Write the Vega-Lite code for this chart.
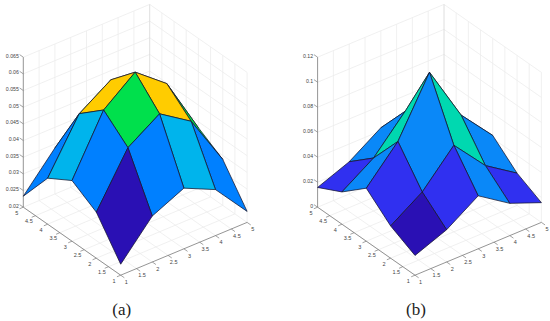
{"$schema":"https://vega.github.io/schema/vega-lite/v6.json","width":550,"height":321,"padding":0,"autosize":{"type":"fit","contains":"padding"},"background":"white","config":{"view":{"stroke":null}},
"encoding":{"x":{"field":"sx","type":"quantitative","scale":{"domain":[0,550],"nice":false},"axis":null},"y":{"field":"sy","type":"quantitative","scale":{"domain":[0,321],"reverse":true,"nice":false,"zero":false},"axis":null}},
"layer":[
{"data":{"values":[
{"p":"a","k":"g","u":1,"v":1,"z":0.02,"u2":1,"v2":5,"z2":0.02},{"p":"a","k":"g","u":1.5,"v":1,"z":0.02,"u2":1.5,"v2":5,"z2":0.02},{"p":"a","k":"g","u":2,"v":1,"z":0.02,"u2":2,"v2":5,"z2":0.02},{"p":"a","k":"g","u":2.5,"v":1,"z":0.02,"u2":2.5,"v2":5,"z2":0.02},{"p":"a","k":"g","u":3,"v":1,"z":0.02,"u2":3,"v2":5,"z2":0.02},{"p":"a","k":"g","u":3.5,"v":1,"z":0.02,"u2":3.5,"v2":5,"z2":0.02},{"p":"a","k":"g","u":4,"v":1,"z":0.02,"u2":4,"v2":5,"z2":0.02},{"p":"a","k":"g","u":4.5,"v":1,"z":0.02,"u2":4.5,"v2":5,"z2":0.02},{"p":"a","k":"g","u":5,"v":1,"z":0.02,"u2":5,"v2":5,"z2":0.02},
{"p":"a","k":"g","u":1,"v":1.5,"z":0.02,"u2":5,"v2":1.5,"z2":0.02},{"p":"a","k":"g","u":1,"v":2,"z":0.02,"u2":5,"v2":2,"z2":0.02},{"p":"a","k":"g","u":1,"v":2.5,"z":0.02,"u2":5,"v2":2.5,"z2":0.02},{"p":"a","k":"g","u":1,"v":3,"z":0.02,"u2":5,"v2":3,"z2":0.02},{"p":"a","k":"g","u":1,"v":3.5,"z":0.02,"u2":5,"v2":3.5,"z2":0.02},{"p":"a","k":"g","u":1,"v":4,"z":0.02,"u2":5,"v2":4,"z2":0.02},{"p":"a","k":"g","u":1,"v":4.5,"z":0.02,"u2":5,"v2":4.5,"z2":0.02},{"p":"a","k":"g","u":1,"v":5,"z":0.02,"u2":5,"v2":5,"z2":0.02},
{"p":"a","k":"g","u":1.5,"v":5,"z":0.02,"u2":1.5,"v2":5,"z2":0.065},{"p":"a","k":"g","u":2,"v":5,"z":0.02,"u2":2,"v2":5,"z2":0.065},{"p":"a","k":"g","u":2.5,"v":5,"z":0.02,"u2":2.5,"v2":5,"z2":0.065},{"p":"a","k":"g","u":3,"v":5,"z":0.02,"u2":3,"v2":5,"z2":0.065},{"p":"a","k":"g","u":3.5,"v":5,"z":0.02,"u2":3.5,"v2":5,"z2":0.065},{"p":"a","k":"g","u":4,"v":5,"z":0.02,"u2":4,"v2":5,"z2":0.065},{"p":"a","k":"g","u":4.5,"v":5,"z":0.02,"u2":4.5,"v2":5,"z2":0.065},
{"p":"a","k":"g","u":5,"v":1,"z":0.02,"u2":5,"v2":1,"z2":0.065},{"p":"a","k":"g","u":5,"v":1.5,"z":0.02,"u2":5,"v2":1.5,"z2":0.065},{"p":"a","k":"g","u":5,"v":2,"z":0.02,"u2":5,"v2":2,"z2":0.065},{"p":"a","k":"g","u":5,"v":2.5,"z":0.02,"u2":5,"v2":2.5,"z2":0.065},{"p":"a","k":"g","u":5,"v":3,"z":0.02,"u2":5,"v2":3,"z2":0.065},{"p":"a","k":"g","u":5,"v":3.5,"z":0.02,"u2":5,"v2":3.5,"z2":0.065},{"p":"a","k":"g","u":5,"v":4,"z":0.02,"u2":5,"v2":4,"z2":0.065},{"p":"a","k":"g","u":5,"v":4.5,"z":0.02,"u2":5,"v2":4.5,"z2":0.065},
{"p":"a","k":"g","u":1,"v":5,"z":0.025,"u2":5,"v2":5,"z2":0.025},{"p":"a","k":"g","u":1,"v":5,"z":0.03,"u2":5,"v2":5,"z2":0.03},{"p":"a","k":"g","u":1,"v":5,"z":0.035,"u2":5,"v2":5,"z2":0.035},{"p":"a","k":"g","u":1,"v":5,"z":0.04,"u2":5,"v2":5,"z2":0.04},{"p":"a","k":"g","u":1,"v":5,"z":0.045,"u2":5,"v2":5,"z2":0.045},{"p":"a","k":"g","u":1,"v":5,"z":0.05,"u2":5,"v2":5,"z2":0.05},{"p":"a","k":"g","u":1,"v":5,"z":0.055,"u2":5,"v2":5,"z2":0.055},{"p":"a","k":"g","u":1,"v":5,"z":0.06,"u2":5,"v2":5,"z2":0.06},{"p":"a","k":"g","u":1,"v":5,"z":0.065,"u2":5,"v2":5,"z2":0.065},
{"p":"a","k":"g","u":5,"v":1,"z":0.025,"u2":5,"v2":5,"z2":0.025},{"p":"a","k":"g","u":5,"v":1,"z":0.03,"u2":5,"v2":5,"z2":0.03},{"p":"a","k":"g","u":5,"v":1,"z":0.035,"u2":5,"v2":5,"z2":0.035},{"p":"a","k":"g","u":5,"v":1,"z":0.04,"u2":5,"v2":5,"z2":0.04},{"p":"a","k":"g","u":5,"v":1,"z":0.045,"u2":5,"v2":5,"z2":0.045},{"p":"a","k":"g","u":5,"v":1,"z":0.05,"u2":5,"v2":5,"z2":0.05},{"p":"a","k":"g","u":5,"v":1,"z":0.055,"u2":5,"v2":5,"z2":0.055},{"p":"a","k":"g","u":5,"v":1,"z":0.06,"u2":5,"v2":5,"z2":0.06},{"p":"a","k":"g","u":5,"v":1,"z":0.065,"u2":5,"v2":5,"z2":0.065},
{"p":"b","k":"g","u":1,"v":1,"z":0,"u2":1,"v2":5,"z2":0},{"p":"b","k":"g","u":1.5,"v":1,"z":0,"u2":1.5,"v2":5,"z2":0},{"p":"b","k":"g","u":2,"v":1,"z":0,"u2":2,"v2":5,"z2":0},{"p":"b","k":"g","u":2.5,"v":1,"z":0,"u2":2.5,"v2":5,"z2":0},{"p":"b","k":"g","u":3,"v":1,"z":0,"u2":3,"v2":5,"z2":0},{"p":"b","k":"g","u":3.5,"v":1,"z":0,"u2":3.5,"v2":5,"z2":0},{"p":"b","k":"g","u":4,"v":1,"z":0,"u2":4,"v2":5,"z2":0},{"p":"b","k":"g","u":4.5,"v":1,"z":0,"u2":4.5,"v2":5,"z2":0},{"p":"b","k":"g","u":5,"v":1,"z":0,"u2":5,"v2":5,"z2":0},
{"p":"b","k":"g","u":1,"v":1.5,"z":0,"u2":5,"v2":1.5,"z2":0},{"p":"b","k":"g","u":1,"v":2,"z":0,"u2":5,"v2":2,"z2":0},{"p":"b","k":"g","u":1,"v":2.5,"z":0,"u2":5,"v2":2.5,"z2":0},{"p":"b","k":"g","u":1,"v":3,"z":0,"u2":5,"v2":3,"z2":0},{"p":"b","k":"g","u":1,"v":3.5,"z":0,"u2":5,"v2":3.5,"z2":0},{"p":"b","k":"g","u":1,"v":4,"z":0,"u2":5,"v2":4,"z2":0},{"p":"b","k":"g","u":1,"v":4.5,"z":0,"u2":5,"v2":4.5,"z2":0},{"p":"b","k":"g","u":1,"v":5,"z":0,"u2":5,"v2":5,"z2":0},
{"p":"b","k":"g","u":1.5,"v":5,"z":0,"u2":1.5,"v2":5,"z2":0.12},{"p":"b","k":"g","u":2,"v":5,"z":0,"u2":2,"v2":5,"z2":0.12},{"p":"b","k":"g","u":2.5,"v":5,"z":0,"u2":2.5,"v2":5,"z2":0.12},{"p":"b","k":"g","u":3,"v":5,"z":0,"u2":3,"v2":5,"z2":0.12},{"p":"b","k":"g","u":3.5,"v":5,"z":0,"u2":3.5,"v2":5,"z2":0.12},{"p":"b","k":"g","u":4,"v":5,"z":0,"u2":4,"v2":5,"z2":0.12},{"p":"b","k":"g","u":4.5,"v":5,"z":0,"u2":4.5,"v2":5,"z2":0.12},
{"p":"b","k":"g","u":5,"v":1,"z":0,"u2":5,"v2":1,"z2":0.12},{"p":"b","k":"g","u":5,"v":1.5,"z":0,"u2":5,"v2":1.5,"z2":0.12},{"p":"b","k":"g","u":5,"v":2,"z":0,"u2":5,"v2":2,"z2":0.12},{"p":"b","k":"g","u":5,"v":2.5,"z":0,"u2":5,"v2":2.5,"z2":0.12},{"p":"b","k":"g","u":5,"v":3,"z":0,"u2":5,"v2":3,"z2":0.12},{"p":"b","k":"g","u":5,"v":3.5,"z":0,"u2":5,"v2":3.5,"z2":0.12},{"p":"b","k":"g","u":5,"v":4,"z":0,"u2":5,"v2":4,"z2":0.12},{"p":"b","k":"g","u":5,"v":4.5,"z":0,"u2":5,"v2":4.5,"z2":0.12},
{"p":"b","k":"g","u":1,"v":5,"z":0.02,"u2":5,"v2":5,"z2":0.02},{"p":"b","k":"g","u":1,"v":5,"z":0.04,"u2":5,"v2":5,"z2":0.04},{"p":"b","k":"g","u":1,"v":5,"z":0.06,"u2":5,"v2":5,"z2":0.06},{"p":"b","k":"g","u":1,"v":5,"z":0.08,"u2":5,"v2":5,"z2":0.08},{"p":"b","k":"g","u":1,"v":5,"z":0.1,"u2":5,"v2":5,"z2":0.1},{"p":"b","k":"g","u":1,"v":5,"z":0.12,"u2":5,"v2":5,"z2":0.12},
{"p":"b","k":"g","u":5,"v":1,"z":0.02,"u2":5,"v2":5,"z2":0.02},{"p":"b","k":"g","u":5,"v":1,"z":0.04,"u2":5,"v2":5,"z2":0.04},{"p":"b","k":"g","u":5,"v":1,"z":0.06,"u2":5,"v2":5,"z2":0.06},{"p":"b","k":"g","u":5,"v":1,"z":0.08,"u2":5,"v2":5,"z2":0.08},{"p":"b","k":"g","u":5,"v":1,"z":0.1,"u2":5,"v2":5,"z2":0.1},{"p":"b","k":"g","u":5,"v":1,"z":0.12,"u2":5,"v2":5,"z2":0.12},
{"p":"a","k":"e","u":5,"v":5,"z":0.02,"u2":5,"v2":5,"z2":0.065},{"p":"b","k":"e","u":5,"v":5,"z":0,"u2":5,"v2":5,"z2":0.12},
{"p":"a","k":"x","u":1,"v":1,"z":0.02,"u2":1,"v2":5,"z2":0.02},{"p":"a","k":"x","u":1,"v":1,"z":0.02,"u2":5,"v2":1,"z2":0.02},{"p":"a","k":"x","u":1,"v":5,"z":0.02,"u2":1,"v2":5,"z2":0.065},
{"p":"b","k":"x","u":1,"v":1,"z":0,"u2":1,"v2":5,"z2":0},{"p":"b","k":"x","u":1,"v":1,"z":0,"u2":5,"v2":1,"z2":0},{"p":"b","k":"x","u":1,"v":5,"z":0,"u2":1,"v2":5,"z2":0.12}
]},
"transform":[{"calculate":"(datum.p=='a'?120.7:415)+(datum.u-1)*31.6-(datum.v-1)*24.35","as":"sx"},{"calculate":"275.2-(datum.u-1)*13.2-(datum.v-1)*17-(datum.p=='a'?(datum.z-0.02)/0.045:datum.z/0.12)*150","as":"sy"},{"calculate":"(datum.p=='a'?120.7:415)+(datum.u2-1)*31.6-(datum.v2-1)*24.35","as":"sx2"},{"calculate":"275.2-(datum.u2-1)*13.2-(datum.v2-1)*17-(datum.p=='a'?(datum.z2-0.02)/0.045:datum.z2/0.12)*150","as":"sy2"}],
"mark":{"type":"rule","strokeWidth":0.8},
"encoding":{"x2":{"field":"sx2"},"y2":{"field":"sy2"},"stroke":{"field":"k","type":"nominal","scale":{"domain":["g","e","x"],"range":["#ececec","#d6d6d6","#7a7a7a"]},"legend":null}}},
{"data":{"values":[
{"f":"a44","p":"a","c":"green","u":[4,5,5,4,4],"v":[4,4,5,5,4],"z":[0.0492,0.0338,0.0233,0.0338,0.0492],"o":[0,1,2,3,4]},
{"f":"a43","p":"a","c":"gold","u":[4,5,5,4,4],"v":[3,3,4,4,3],"z":[0.0554,0.0382,0.0338,0.0492,0.0554],"o":[0,1,2,3,4]},
{"f":"a34","p":"a","c":"gold","u":[3,4,4,3,3],"v":[4,4,5,5,4],"z":[0.0554,0.0492,0.0338,0.0382,0.0554],"o":[0,1,2,3,4]},
{"f":"a42","p":"a","c":"green","u":[4,5,5,4,4],"v":[2,2,3,3,2],"z":[0.0492,0.0338,0.0382,0.0554,0.0492],"o":[0,1,2,3,4]},
{"f":"a33","p":"a","c":"yellow","u":[3,4,4,3,3],"v":[3,3,4,4,3],"z":[0.0628,0.0554,0.0492,0.0554,0.0628],"o":[0,1,2,3,4]},
{"f":"a24","p":"a","c":"green","u":[2,3,3,2,2],"v":[4,4,5,5,4],"z":[0.0492,0.0554,0.0382,0.0338,0.0492],"o":[0,1,2,3,4]},
{"f":"a41","p":"a","c":"blue","u":[4,5,5,4,4],"v":[1,1,2,2,1],"z":[0.0338,0.0233,0.0338,0.0492,0.0338],"o":[0,1,2,3,4]},
{"f":"a32","p":"a","c":"gold","u":[3,4,4,3,3],"v":[2,2,3,3,2],"z":[0.0554,0.0492,0.0554,0.0628,0.0554],"o":[0,1,2,3,4]},
{"f":"a23","p":"a","c":"gold","u":[2,3,3,2,2],"v":[3,3,4,4,3],"z":[0.0554,0.0628,0.0554,0.0492,0.0554],"o":[0,1,2,3,4]},
{"f":"a14","p":"a","c":"blue","u":[1,2,2,1,1],"v":[4,4,5,5,4],"z":[0.0338,0.0492,0.0338,0.0233,0.0338],"o":[0,1,2,3,4]},
{"f":"a31","p":"a","c":"sky","u":[3,4,4,3,3],"v":[1,1,2,2,1],"z":[0.0382,0.0338,0.0492,0.0554,0.0382],"o":[0,1,2,3,4]},
{"f":"a22","p":"a","c":"green","u":[2,3,3,2,2],"v":[2,2,3,3,2],"z":[0.0492,0.0554,0.0628,0.0554,0.0492],"o":[0,1,2,3,4]},
{"f":"a13","p":"a","c":"sky","u":[1,2,2,1,1],"v":[3,3,4,4,3],"z":[0.0382,0.0554,0.0492,0.0338,0.0382],"o":[0,1,2,3,4]},
{"f":"a21","p":"a","c":"blue","u":[2,3,3,2,2],"v":[1,1,2,2,1],"z":[0.0338,0.0382,0.0554,0.0492,0.0338],"o":[0,1,2,3,4]},
{"f":"a12","p":"a","c":"blue","u":[1,2,2,1,1],"v":[2,2,3,3,2],"z":[0.0338,0.0492,0.0554,0.0382,0.0338],"o":[0,1,2,3,4]},
{"f":"a11","p":"a","c":"dark","u":[1,2,2,1,1],"v":[1,1,2,2,1],"z":[0.0233,0.0338,0.0492,0.0338,0.0233],"o":[0,1,2,3,4]},
{"f":"b44","p":"b","c":"blue2","u":[4,5,5,4,4],"v":[4,4,5,5,4],"z":[0.0424,0.0258,0.0158,0.0258,0.0424],"o":[0,1,2,3,4]},
{"f":"b43","p":"b","c":"teal","u":[4,5,5,4,4],"v":[3,3,4,4,3],"z":[0.0692,0.0424,0.0258,0.0424,0.0692],"o":[0,1,2,3,4]},
{"f":"b34","p":"b","c":"teal","u":[3,4,4,3,3],"v":[4,4,5,5,4],"z":[0.0692,0.0424,0.0258,0.0424,0.0692],"o":[0,1,2,3,4]},
{"f":"b42","p":"b","c":"blue2","u":[4,5,5,4,4],"v":[2,2,3,3,2],"z":[0.0424,0.0258,0.0424,0.0692,0.0424],"o":[0,1,2,3,4]},
{"f":"b33","p":"b","c":"yellow","u":[3,4,4,3,3],"v":[3,3,4,4,3],"z":[0.114,0.0692,0.0424,0.0692,0.114],"o":[0,1,2,3,4]},
{"f":"b24","p":"b","c":"blue2","u":[2,3,3,2,2],"v":[4,4,5,5,4],"z":[0.0424,0.0692,0.0424,0.0258,0.0424],"o":[0,1,2,3,4]},
{"f":"b41","p":"b","c":"indigo","u":[4,5,5,4,4],"v":[1,1,2,2,1],"z":[0.0258,0.0158,0.0258,0.0424,0.0258],"o":[0,1,2,3,4]},
{"f":"b32","p":"b","c":"teal","u":[3,4,4,3,3],"v":[2,2,3,3,2],"z":[0.0692,0.0424,0.0692,0.114,0.0692],"o":[0,1,2,3,4]},
{"f":"b23","p":"b","c":"teal","u":[2,3,3,2,2],"v":[3,3,4,4,3],"z":[0.0692,0.114,0.0692,0.0424,0.0692],"o":[0,1,2,3,4]},
{"f":"b14","p":"b","c":"indigo","u":[1,2,2,1,1],"v":[4,4,5,5,4],"z":[0.0258,0.0424,0.0258,0.0158,0.0258],"o":[0,1,2,3,4]},
{"f":"b31","p":"b","c":"blue2","u":[3,4,4,3,3],"v":[1,1,2,2,1],"z":[0.0424,0.0258,0.0424,0.0692,0.0424],"o":[0,1,2,3,4]},
{"f":"b22","p":"b","c":"blue2","u":[2,3,3,2,2],"v":[2,2,3,3,2],"z":[0.0424,0.0692,0.114,0.0692,0.0424],"o":[0,1,2,3,4]},
{"f":"b13","p":"b","c":"blue2","u":[1,2,2,1,1],"v":[3,3,4,4,3],"z":[0.0424,0.0692,0.0424,0.0258,0.0424],"o":[0,1,2,3,4]},
{"f":"b21","p":"b","c":"indigo","u":[2,3,3,2,2],"v":[1,1,2,2,1],"z":[0.0258,0.0424,0.0692,0.0424,0.0258],"o":[0,1,2,3,4]},
{"f":"b12","p":"b","c":"indigo","u":[1,2,2,1,1],"v":[2,2,3,3,2],"z":[0.0258,0.0424,0.0692,0.0424,0.0258],"o":[0,1,2,3,4]},
{"f":"b11","p":"b","c":"dark","u":[1,2,2,1,1],"v":[1,1,2,2,1],"z":[0.0158,0.0258,0.0424,0.0258,0.0158],"o":[0,1,2,3,4]}
]},
"transform":[{"flatten":["u","v","z","o"]},{"calculate":"(datum.p=='a'?120.7:415)+(datum.u-1)*31.6-(datum.v-1)*24.35","as":"sx"},{"calculate":"275.2-(datum.u-1)*13.2-(datum.v-1)*17-(datum.p=='a'?(datum.z-0.02)/0.045:datum.z/0.12)*150","as":"sy"}],
"mark":{"type":"line","stroke":"#14142e","strokeWidth":0.75,"strokeJoin":"round"},
"encoding":{"detail":{"field":"f"},"order":{"field":"o","type":"quantitative"},"fill":{"field":"c","type":"nominal","scale":{"domain":["dark","blue","sky","green","gold","yellow","indigo","blue2","teal"],"range":["#2a10b4","#0080ff","#00b4ec","#00e04c","#ffcc00","#fff000","#3030f0","#0a88f8","#00d8b0"]},"legend":null}}},
{"data":{"values":[
{"p":"a","ax":"z","u":1,"v":5,"z":0.02,"t":"0.02"},{"p":"a","ax":"z","u":1,"v":5,"z":0.025,"t":"0.025"},{"p":"a","ax":"z","u":1,"v":5,"z":0.03,"t":"0.03"},{"p":"a","ax":"z","u":1,"v":5,"z":0.035,"t":"0.035"},{"p":"a","ax":"z","u":1,"v":5,"z":0.04,"t":"0.04"},{"p":"a","ax":"z","u":1,"v":5,"z":0.045,"t":"0.045"},{"p":"a","ax":"z","u":1,"v":5,"z":0.05,"t":"0.05"},{"p":"a","ax":"z","u":1,"v":5,"z":0.055,"t":"0.055"},{"p":"a","ax":"z","u":1,"v":5,"z":0.06,"t":"0.06"},{"p":"a","ax":"z","u":1,"v":5,"z":0.065,"t":"0.065"},
{"p":"b","ax":"z","u":1,"v":5,"z":0,"t":"0"},{"p":"b","ax":"z","u":1,"v":5,"z":0.02,"t":"0.02"},{"p":"b","ax":"z","u":1,"v":5,"z":0.04,"t":"0.04"},{"p":"b","ax":"z","u":1,"v":5,"z":0.06,"t":"0.06"},{"p":"b","ax":"z","u":1,"v":5,"z":0.08,"t":"0.08"},{"p":"b","ax":"z","u":1,"v":5,"z":0.1,"t":"0.1"},{"p":"b","ax":"z","u":1,"v":5,"z":0.12,"t":"0.12"},
{"p":"a","ax":"v","u":1,"v":1,"z":0.02,"t":"1"},{"p":"a","ax":"v","u":1,"v":1.5,"z":0.02,"t":"1.5"},{"p":"a","ax":"v","u":1,"v":2,"z":0.02,"t":"2"},{"p":"a","ax":"v","u":1,"v":2.5,"z":0.02,"t":"2.5"},{"p":"a","ax":"v","u":1,"v":3,"z":0.02,"t":"3"},{"p":"a","ax":"v","u":1,"v":3.5,"z":0.02,"t":"3.5"},{"p":"a","ax":"v","u":1,"v":4,"z":0.02,"t":"4"},{"p":"a","ax":"v","u":1,"v":4.5,"z":0.02,"t":"4.5"},{"p":"a","ax":"v","u":1,"v":5,"z":0.02,"t":"5"},
{"p":"a","ax":"u","u":1,"v":1,"z":0.02,"t":"1"},{"p":"a","ax":"u","u":1.5,"v":1,"z":0.02,"t":"1.5"},{"p":"a","ax":"u","u":2,"v":1,"z":0.02,"t":"2"},{"p":"a","ax":"u","u":2.5,"v":1,"z":0.02,"t":"2.5"},{"p":"a","ax":"u","u":3,"v":1,"z":0.02,"t":"3"},{"p":"a","ax":"u","u":3.5,"v":1,"z":0.02,"t":"3.5"},{"p":"a","ax":"u","u":4,"v":1,"z":0.02,"t":"4"},{"p":"a","ax":"u","u":4.5,"v":1,"z":0.02,"t":"4.5"},{"p":"a","ax":"u","u":5,"v":1,"z":0.02,"t":"5"},
{"p":"b","ax":"v","u":1,"v":1,"z":0,"t":"1"},{"p":"b","ax":"v","u":1,"v":1.5,"z":0,"t":"1.5"},{"p":"b","ax":"v","u":1,"v":2,"z":0,"t":"2"},{"p":"b","ax":"v","u":1,"v":2.5,"z":0,"t":"2.5"},{"p":"b","ax":"v","u":1,"v":3,"z":0,"t":"3"},{"p":"b","ax":"v","u":1,"v":3.5,"z":0,"t":"3.5"},{"p":"b","ax":"v","u":1,"v":4,"z":0,"t":"4"},{"p":"b","ax":"v","u":1,"v":4.5,"z":0,"t":"4.5"},{"p":"b","ax":"v","u":1,"v":5,"z":0,"t":"5"},
{"p":"b","ax":"u","u":1,"v":1,"z":0,"t":"1"},{"p":"b","ax":"u","u":1.5,"v":1,"z":0,"t":"1.5"},{"p":"b","ax":"u","u":2,"v":1,"z":0,"t":"2"},{"p":"b","ax":"u","u":2.5,"v":1,"z":0,"t":"2.5"},{"p":"b","ax":"u","u":3,"v":1,"z":0,"t":"3"},{"p":"b","ax":"u","u":3.5,"v":1,"z":0,"t":"3.5"},{"p":"b","ax":"u","u":4,"v":1,"z":0,"t":"4"},{"p":"b","ax":"u","u":4.5,"v":1,"z":0,"t":"4.5"},{"p":"b","ax":"u","u":5,"v":1,"z":0,"t":"5"},
{"p":"a","ax":"c","u":1,"v":1,"z":0.02,"t":"(a)"},{"p":"b","ax":"c","u":1,"v":1,"z":0,"t":"(b)"}
]},
"transform":[{"calculate":"(datum.p=='a'?120.7:415)+(datum.u-1)*31.6-(datum.v-1)*24.35","as":"sx"},{"calculate":"275.2-(datum.u-1)*13.2-(datum.v-1)*17-(datum.p=='a'?(datum.z-0.02)/0.045:datum.z/0.12)*150","as":"sy"},{"calculate":"datum.ax=='v'?datum.u-0.12:datum.u","as":"u2"},{"calculate":"datum.ax=='u'?datum.v-0.15:datum.ax=='z'?datum.v+0.15:datum.v","as":"v2"},{"calculate":"(datum.p=='a'?120.7:415)+(datum.u2-1)*31.6-(datum.v2-1)*24.35","as":"sx2"},{"calculate":"275.2-(datum.u2-1)*13.2-(datum.v2-1)*17-(datum.p=='a'?(datum.z-0.02)/0.045:datum.z/0.12)*150","as":"sy2"}],
"layer":[
{"transform":[{"filter":"datum.ax!='c'"}],"mark":{"type":"rule","stroke":"#7a7a7a","strokeWidth":0.7},"encoding":{"x2":{"field":"sx2"},"y2":{"field":"sy2"}}},
{"transform":[{"filter":"datum.ax=='z'"}],"mark":{"type":"text","align":"right","baseline":"middle","dx":-4.5,"dy":-1.5,"font":"Liberation Sans","fontSize":5.2,"fill":"#444444"},"encoding":{"text":{"field":"t"}}},
{"transform":[{"filter":"datum.ax=='v'"}],"mark":{"type":"text","align":"center","baseline":"middle","dx":-6.6,"dy":5.6,"font":"Liberation Sans","fontSize":5.5,"fill":"#444444"},"encoding":{"text":{"field":"t"}}},
{"transform":[{"filter":"datum.ax=='u'"}],"mark":{"type":"text","align":"center","baseline":"middle","dx":5.6,"dy":6.8,"font":"Liberation Sans","fontSize":5.5,"fill":"#444444"},"encoding":{"text":{"field":"t"}}},
{"transform":[{"filter":"datum.ax=='c'"}],"mark":{"type":"text","align":"center","baseline":"middle","dx":1,"dy":34.5,"font":"Liberation Serif","fontSize":17,"fill":"#222222"},"encoding":{"text":{"field":"t"}}}
]}
]}
